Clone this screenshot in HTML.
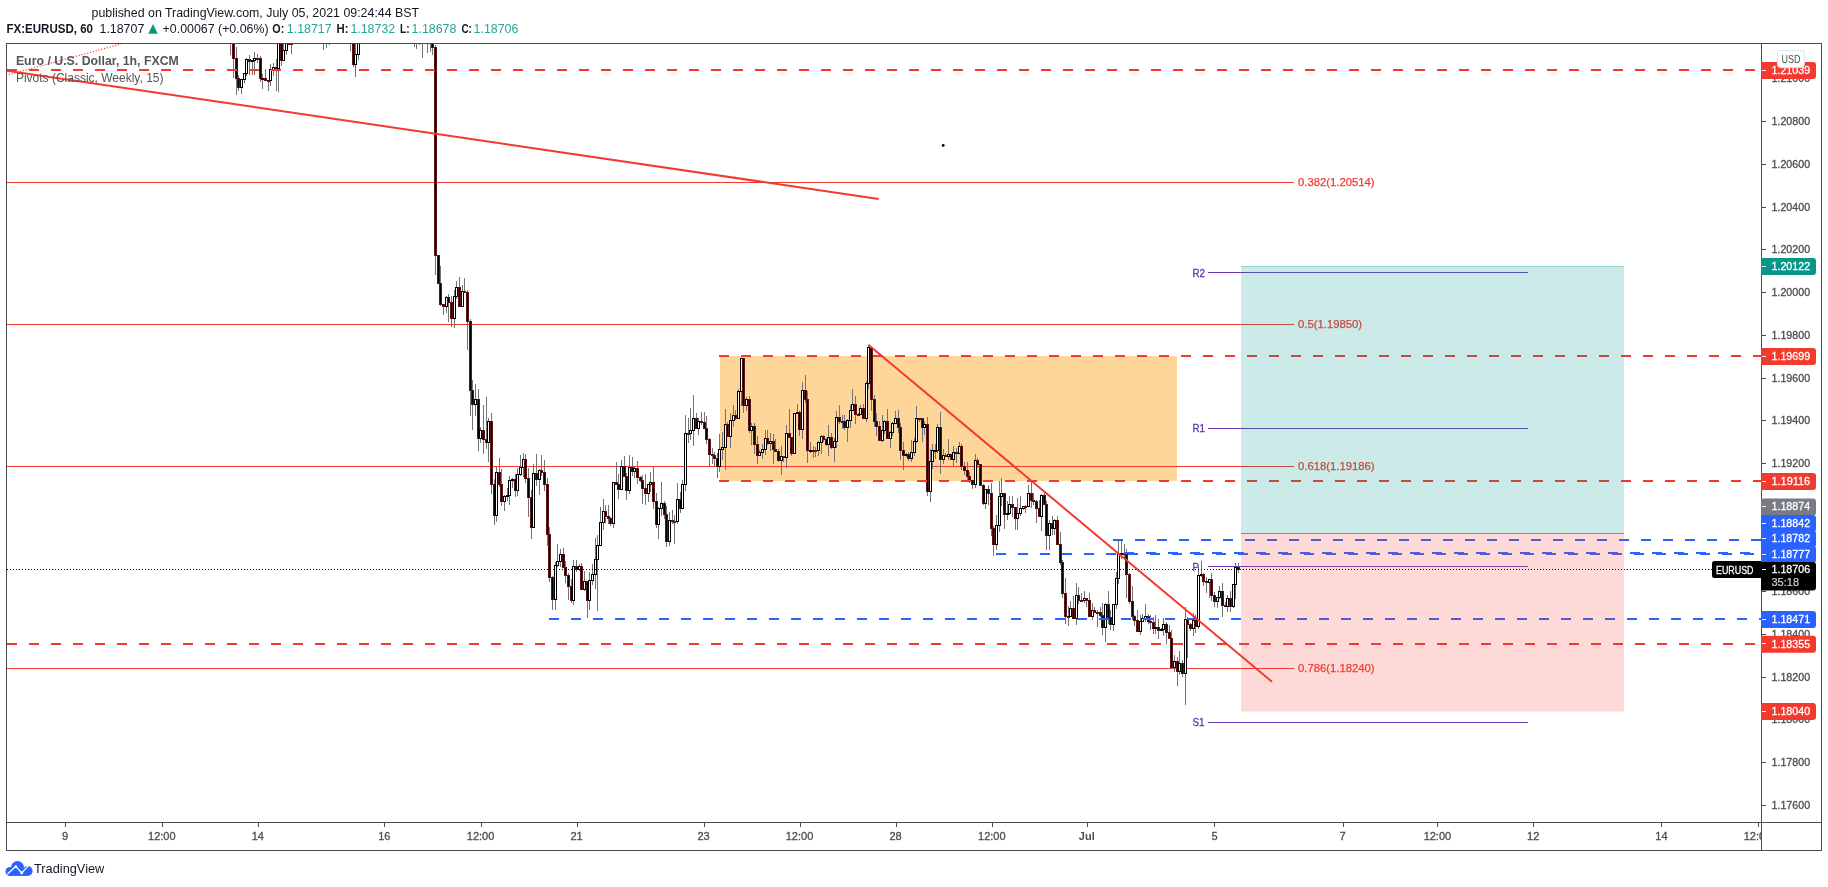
<!DOCTYPE html><html><head><meta charset="utf-8"><style>html,body{margin:0;padding:0;background:#fff;width:1828px;height:887px;overflow:hidden}svg{display:block;will-change:transform}text{font-family:"Liberation Sans", sans-serif}</style></head><body><svg width="1828" height="887" viewBox="0 0 1828 887"><defs><clipPath id="pane"><rect x="7" y="44" width="1754" height="778"/></clipPath><clipPath id="paxis"><rect x="1761" y="44" width="60" height="778"/></clipPath><clipPath id="taxis"><rect x="7" y="823" width="1754" height="27"/></clipPath></defs><rect width="1828" height="887" fill="#fff"/><text x="91.5" y="16.5" font-size="12.4" fill="#131722">published on TradingView.com, July 05, 2021 09:24:44 BST</text><g font-size="12.4"><text x="6.5" y="33.4" font-weight="bold" fill="#131722" textLength="86.5" lengthAdjust="spacingAndGlyphs">FX:EURUSD, 60</text><text x="99.5" y="33.4" fill="#131722">1.18707</text><path d="M148.1,33.8 L153,24.1 L157.8,33.8 Z" fill="#089981"/><text x="162.6" y="33.4" fill="#131722">+0.00067</text><text x="218" y="33.4" fill="#131722">(+0.06%)</text><text x="272.3" y="33.4" font-weight="bold" fill="#131722" textLength="12" lengthAdjust="spacingAndGlyphs">O:</text><text x="286.8" y="33.4" fill="#26a69a">1.18717</text><text x="336.6" y="33.4" font-weight="bold" fill="#131722" textLength="12" lengthAdjust="spacingAndGlyphs">H:</text><text x="350.4" y="33.4" fill="#26a69a">1.18732</text><text x="400" y="33.4" font-weight="bold" fill="#131722" textLength="9.5" lengthAdjust="spacingAndGlyphs">L:</text><text x="411.6" y="33.4" fill="#26a69a">1.18678</text><text x="461.4" y="33.4" font-weight="bold" fill="#131722" textLength="10.5" lengthAdjust="spacingAndGlyphs">C:</text><text x="473.6" y="33.4" fill="#26a69a">1.18706</text></g><g clip-path="url(#pane)"><rect x="720" y="356" width="457" height="125" fill="rgba(255,152,0,0.4)"/><rect x="6" y="182" width="1288" height="1" fill="#f23a2e"/><rect x="6" y="324" width="1288" height="1" fill="#f23a2e"/><rect x="6" y="466" width="1288" height="1" fill="#f23a2e"/><rect x="6" y="668" width="1288" height="1" fill="#f23a2e"/><rect x="1208" y="272" width="320" height="1" fill="#673ab7"/><text x="1192.5" y="276.8" font-size="11" fill="#5b32b4" stroke="#5b32b4" stroke-width="0.3" textLength="12.5" lengthAdjust="spacingAndGlyphs">R2</text><rect x="1208" y="428" width="320" height="1" fill="#673ab7"/><text x="1192.5" y="432" font-size="11" fill="#5b32b4" stroke="#5b32b4" stroke-width="0.3" textLength="12.5" lengthAdjust="spacingAndGlyphs">R1</text><rect x="1208" y="566" width="320" height="1" fill="#673ab7"/><text x="1192.5" y="570.5" font-size="11" fill="#5b32b4" stroke="#5b32b4" stroke-width="0.3" textLength="6.5" lengthAdjust="spacingAndGlyphs">P</text><rect x="1208" y="722" width="320" height="1" fill="#673ab7"/><text x="1192.5" y="726" font-size="11" fill="#5b32b4" stroke="#5b32b4" stroke-width="0.3" textLength="12" lengthAdjust="spacingAndGlyphs">S1</text><g fill="#737375" shape-rendering="crispEdges"><rect x="230" y="30.0" width="1" height="24.5"/><rect x="233" y="30.0" width="1" height="47.5"/><rect x="236" y="46.8" width="1" height="48.0"/><rect x="238" y="75.2" width="1" height="15.5"/><rect x="241" y="78.5" width="1" height="15.9"/><rect x="244" y="73.1" width="1" height="10.2"/><rect x="246" y="58.3" width="1" height="17.5"/><rect x="249" y="55.2" width="1" height="19.3"/><rect x="252" y="60.0" width="1" height="14.8"/><rect x="254" y="52.2" width="1" height="22.6"/><rect x="257" y="54.2" width="1" height="8.4"/><rect x="260" y="56.2" width="1" height="25.4"/><rect x="262" y="74.1" width="1" height="14.6"/><rect x="265" y="69.0" width="1" height="12.2"/><rect x="268" y="80.0" width="1" height="10.7"/><rect x="270" y="63.7" width="1" height="21.9"/><rect x="273" y="63.0" width="1" height="12.5"/><rect x="276" y="59.3" width="1" height="31.4"/><rect x="278" y="30.0" width="1" height="61.7"/><rect x="281" y="30.0" width="1" height="35.7"/><rect x="283" y="30.0" width="1" height="29.6"/><rect x="286" y="30.0" width="1" height="24.5"/><rect x="289" y="30.0" width="1" height="14.5"/><rect x="291" y="30.0" width="1" height="23.5"/><rect x="323" y="30.0" width="1" height="19.6"/><rect x="326" y="30.0" width="1" height="17.5"/><rect x="329" y="30.0" width="1" height="14.6"/><rect x="350" y="30.0" width="1" height="21.4"/><rect x="353" y="30.0" width="1" height="36.7"/><rect x="355" y="30.0" width="1" height="46.6"/><rect x="358" y="30.0" width="1" height="29.6"/><rect x="414" y="30.0" width="1" height="16.8"/><rect x="416" y="30.0" width="1" height="18.5"/><rect x="419" y="30.0" width="1" height="14.6"/><rect x="422" y="30.0" width="1" height="27.8"/><rect x="427" y="30.0" width="1" height="22.8"/><rect x="430" y="30.0" width="1" height="21.7"/><rect x="432" y="30.0" width="1" height="25.0"/><rect x="435" y="45.1" width="1" height="229.4"/><rect x="438" y="255.2" width="1" height="28.4"/><rect x="440" y="266.0" width="1" height="39.5"/><rect x="443" y="304.5" width="1" height="10.0"/><rect x="446" y="296.4" width="1" height="16.1"/><rect x="448" y="294.4" width="1" height="27.3"/><rect x="451" y="296.0" width="1" height="30.8"/><rect x="454" y="290.0" width="1" height="37.7"/><rect x="456" y="281.0" width="1" height="18.3"/><rect x="459" y="277.2" width="1" height="29.3"/><rect x="462" y="284.8" width="1" height="21.7"/><rect x="464" y="278.0" width="1" height="14.3"/><rect x="467" y="290.3" width="1" height="59.3"/><rect x="470" y="319.2" width="1" height="96.3"/><rect x="472" y="380.2" width="1" height="49.5"/><rect x="475" y="384.0" width="1" height="32.4"/><rect x="478" y="388.8" width="1" height="61.8"/><rect x="480" y="426.7" width="1" height="16.7"/><rect x="483" y="404.9" width="1" height="49.5"/><rect x="486" y="397.0" width="1" height="51.5"/><rect x="488" y="418.1" width="1" height="43.6"/><rect x="491" y="413.1" width="1" height="80.7"/><rect x="494" y="478.7" width="1" height="46.1"/><rect x="496" y="467.0" width="1" height="54.6"/><rect x="499" y="458.0" width="1" height="28.7"/><rect x="501" y="468.7" width="1" height="36.8"/><rect x="504" y="494.8" width="1" height="16.6"/><rect x="507" y="487.8" width="1" height="13.0"/><rect x="509" y="475.6" width="1" height="29.2"/><rect x="512" y="477.6" width="1" height="10.0"/><rect x="515" y="473.6" width="1" height="23.3"/><rect x="517" y="467.5" width="1" height="28.8"/><rect x="520" y="454.9" width="1" height="20.6"/><rect x="523" y="453.2" width="1" height="23.7"/><rect x="525" y="454.3" width="1" height="28.3"/><rect x="528" y="467.6" width="1" height="49.4"/><rect x="531" y="489.7" width="1" height="49.1"/><rect x="533" y="464.2" width="1" height="63.4"/><rect x="536" y="454.0" width="1" height="32.4"/><rect x="539" y="469.3" width="1" height="25.4"/><rect x="541" y="455.3" width="1" height="20.5"/><rect x="544" y="459.8" width="1" height="30.7"/><rect x="547" y="477.5" width="1" height="68.3"/><rect x="549" y="526.8" width="1" height="55.6"/><rect x="552" y="576.4" width="1" height="33.6"/><rect x="555" y="562.2" width="1" height="47.8"/><rect x="557" y="543.9" width="1" height="23.3"/><rect x="560" y="548.5" width="1" height="18.1"/><rect x="563" y="547.5" width="1" height="20.7"/><rect x="565" y="561.2" width="1" height="22.1"/><rect x="568" y="573.3" width="1" height="26.7"/><rect x="571" y="578.5" width="1" height="24.7"/><rect x="573" y="559.7" width="1" height="44.8"/><rect x="576" y="559.7" width="1" height="12.5"/><rect x="579" y="563.5" width="1" height="7.7"/><rect x="581" y="562.5" width="1" height="26.9"/><rect x="584" y="570.8" width="1" height="20.6"/><rect x="587" y="580.8" width="1" height="37.2"/><rect x="589" y="571.7" width="1" height="38.0"/><rect x="592" y="563.7" width="1" height="21.0"/><rect x="595" y="538.0" width="1" height="50.7"/><rect x="597" y="535.2" width="1" height="75.5"/><rect x="600" y="506.6" width="1" height="38.6"/><rect x="603" y="499.4" width="1" height="30.2"/><rect x="605" y="505.4" width="1" height="17.1"/><rect x="608" y="504.5" width="1" height="19.0"/><rect x="610" y="516.5" width="1" height="9.1"/><rect x="613" y="481.5" width="1" height="46.5"/><rect x="616" y="462.0" width="1" height="22.0"/><rect x="618" y="474.0" width="1" height="24.7"/><rect x="621" y="460.0" width="1" height="29.6"/><rect x="624" y="455.7" width="1" height="20.7"/><rect x="626" y="473.4" width="1" height="26.2"/><rect x="629" y="454.8" width="1" height="38.8"/><rect x="632" y="456.8" width="1" height="19.4"/><rect x="634" y="466.7" width="1" height="11.5"/><rect x="637" y="460.7" width="1" height="23.6"/><rect x="640" y="476.3" width="1" height="6.1"/><rect x="642" y="475.4" width="1" height="28.1"/><rect x="645" y="473.5" width="1" height="31.2"/><rect x="648" y="484.0" width="1" height="17.7"/><rect x="650" y="471.6" width="1" height="20.4"/><rect x="653" y="466.9" width="1" height="41.8"/><rect x="656" y="492.7" width="1" height="34.8"/><rect x="658" y="507.3" width="1" height="31.2"/><rect x="661" y="482.4" width="1" height="33.9"/><rect x="664" y="500.6" width="1" height="18.7"/><rect x="666" y="506.3" width="1" height="41.0"/><rect x="669" y="512.4" width="1" height="33.8"/><rect x="672" y="510.4" width="1" height="13.6"/><rect x="674" y="515.0" width="1" height="29.0"/><rect x="677" y="483.4" width="1" height="41.0"/><rect x="680" y="491.6" width="1" height="21.6"/><rect x="682" y="480.3" width="1" height="27.9"/><rect x="685" y="414.8" width="1" height="76.6"/><rect x="688" y="417.6" width="1" height="25.5"/><rect x="690" y="408.0" width="1" height="32.1"/><rect x="693" y="395.0" width="1" height="50.5"/><rect x="696" y="413.4" width="1" height="15.1"/><rect x="698" y="418.4" width="1" height="16.1"/><rect x="701" y="412.3" width="1" height="12.6"/><rect x="704" y="411.9" width="1" height="16.1"/><rect x="706" y="416.0" width="1" height="27.7"/><rect x="709" y="437.7" width="1" height="28.7"/><rect x="712" y="448.4" width="1" height="15.1"/><rect x="714" y="451.9" width="1" height="13.6"/><rect x="717" y="452.5" width="1" height="25.1"/><rect x="719" y="434.3" width="1" height="37.3"/><rect x="722" y="432.3" width="1" height="27.2"/><rect x="725" y="409.3" width="1" height="60.7"/><rect x="727" y="422.3" width="1" height="13.5"/><rect x="730" y="412.6" width="1" height="35.2"/><rect x="733" y="404.9" width="1" height="21.7"/><rect x="735" y="409.9" width="1" height="10.3"/><rect x="738" y="389.2" width="1" height="29.0"/><rect x="741" y="357.5" width="1" height="48.7"/><rect x="743" y="357.8" width="1" height="54.9"/><rect x="746" y="397.3" width="1" height="13.4"/><rect x="749" y="396.3" width="1" height="37.1"/><rect x="751" y="423.4" width="1" height="21.9"/><rect x="754" y="423.4" width="1" height="30.1"/><rect x="757" y="435.5" width="1" height="28.8"/><rect x="759" y="450.1" width="1" height="5.0"/><rect x="762" y="444.0" width="1" height="15.1"/><rect x="765" y="430.4" width="1" height="24.6"/><rect x="767" y="430.4" width="1" height="14.6"/><rect x="770" y="432.9" width="1" height="18.1"/><rect x="773" y="433.9" width="1" height="30.4"/><rect x="775" y="439.0" width="1" height="12.1"/><rect x="778" y="449.1" width="1" height="13.1"/><rect x="781" y="445.6" width="1" height="29.6"/><rect x="783" y="455.6" width="1" height="6.6"/><rect x="786" y="425.4" width="1" height="42.9"/><rect x="789" y="409.0" width="1" height="29.4"/><rect x="791" y="437.4" width="1" height="18.3"/><rect x="794" y="413.1" width="1" height="40.6"/><rect x="797" y="403.5" width="1" height="9.6"/><rect x="799" y="410.5" width="1" height="25.8"/><rect x="802" y="382.2" width="1" height="57.1"/><rect x="805" y="375.2" width="1" height="28.2"/><rect x="807" y="391.4" width="1" height="71.9"/><rect x="810" y="441.6" width="1" height="11.5"/><rect x="813" y="445.6" width="1" height="12.0"/><rect x="815" y="446.6" width="1" height="10.0"/><rect x="818" y="440.5" width="1" height="15.1"/><rect x="821" y="435.4" width="1" height="18.1"/><rect x="823" y="435.4" width="1" height="6.6"/><rect x="826" y="438.0" width="1" height="7.5"/><rect x="828" y="425.4" width="1" height="30.1"/><rect x="831" y="433.4" width="1" height="15.2"/><rect x="834" y="438.0" width="1" height="23.6"/><rect x="836" y="410.6" width="1" height="37.4"/><rect x="839" y="404.6" width="1" height="19.6"/><rect x="842" y="415.2" width="1" height="14.0"/><rect x="844" y="415.2" width="1" height="15.1"/><rect x="847" y="418.7" width="1" height="23.6"/><rect x="850" y="404.5" width="1" height="23.2"/><rect x="852" y="388.9" width="1" height="20.6"/><rect x="855" y="395.9" width="1" height="28.2"/><rect x="858" y="413.1" width="1" height="2.2"/><rect x="860" y="405.1" width="1" height="10.2"/><rect x="863" y="404.1" width="1" height="13.9"/><rect x="866" y="380.7" width="1" height="41.3"/><rect x="868" y="345.5" width="1" height="43.2"/><rect x="871" y="347.0" width="1" height="64.4"/><rect x="874" y="395.4" width="1" height="31.7"/><rect x="876" y="413.1" width="1" height="23.0"/><rect x="879" y="421.1" width="1" height="19.6"/><rect x="882" y="415.0" width="1" height="26.7"/><rect x="884" y="420.1" width="1" height="13.9"/><rect x="887" y="409.1" width="1" height="29.5"/><rect x="890" y="430.5" width="1" height="17.1"/><rect x="892" y="422.4" width="1" height="13.1"/><rect x="895" y="410.8" width="1" height="12.6"/><rect x="898" y="409.8" width="1" height="23.1"/><rect x="900" y="422.9" width="1" height="37.4"/><rect x="903" y="442.3" width="1" height="28.0"/><rect x="906" y="453.3" width="1" height="4.0"/><rect x="908" y="452.3" width="1" height="9.1"/><rect x="911" y="439.8" width="1" height="22.6"/><rect x="914" y="437.6" width="1" height="18.2"/><rect x="916" y="405.8" width="1" height="36.8"/><rect x="919" y="417.8" width="1" height="4.5"/><rect x="922" y="418.3" width="1" height="24.1"/><rect x="924" y="420.9" width="1" height="14.5"/><rect x="927" y="416.9" width="1" height="78.8"/><rect x="930" y="448.7" width="1" height="53.1"/><rect x="932" y="443.5" width="1" height="25.2"/><rect x="935" y="444.0" width="1" height="14.5"/><rect x="937" y="424.2" width="1" height="28.8"/><rect x="940" y="412.2" width="1" height="61.5"/><rect x="943" y="448.6" width="1" height="15.1"/><rect x="945" y="452.6" width="1" height="3.5"/><rect x="948" y="438.6" width="1" height="21.5"/><rect x="951" y="453.6" width="1" height="6.6"/><rect x="953" y="445.5" width="1" height="21.7"/><rect x="956" y="447.5" width="1" height="15.6"/><rect x="959" y="441.5" width="1" height="11.6"/><rect x="961" y="443.5" width="1" height="26.0"/><rect x="964" y="461.5" width="1" height="13.6"/><rect x="967" y="462.1" width="1" height="19.1"/><rect x="969" y="472.2" width="1" height="11.1"/><rect x="972" y="480.3" width="1" height="9.0"/><rect x="975" y="453.5" width="1" height="34.8"/><rect x="977" y="457.5" width="1" height="10.0"/><rect x="980" y="464.5" width="1" height="21.8"/><rect x="983" y="484.3" width="1" height="20.8"/><rect x="985" y="488.9" width="1" height="20.2"/><rect x="988" y="484.9" width="1" height="20.0"/><rect x="991" y="482.9" width="1" height="52.9"/><rect x="993" y="525.8" width="1" height="29.7"/><rect x="996" y="515.3" width="1" height="34.2"/><rect x="999" y="481.3" width="1" height="51.0"/><rect x="1001" y="478.3" width="1" height="28.0"/><rect x="1004" y="493.3" width="1" height="35.8"/><rect x="1007" y="501.0" width="1" height="19.1"/><rect x="1009" y="496.4" width="1" height="18.6"/><rect x="1012" y="496.4" width="1" height="20.6"/><rect x="1015" y="507.0" width="1" height="22.6"/><rect x="1017" y="497.6" width="1" height="32.0"/><rect x="1020" y="495.5" width="1" height="20.1"/><rect x="1023" y="506.0" width="1" height="3.5"/><rect x="1025" y="505.0" width="1" height="7.5"/><rect x="1028" y="485.3" width="1" height="21.2"/><rect x="1031" y="481.3" width="1" height="27.1"/><rect x="1033" y="493.4" width="1" height="12.0"/><rect x="1036" y="500.4" width="1" height="22.1"/><rect x="1039" y="499.5" width="1" height="17.1"/><rect x="1041" y="494.3" width="1" height="36.3"/><rect x="1044" y="491.3" width="1" height="14.1"/><rect x="1046" y="501.4" width="1" height="49.0"/><rect x="1049" y="519.7" width="1" height="30.7"/><rect x="1052" y="515.7" width="1" height="19.6"/><rect x="1054" y="519.2" width="1" height="16.1"/><rect x="1057" y="516.2" width="1" height="27.9"/><rect x="1060" y="532.1" width="1" height="33.3"/><rect x="1062" y="560.4" width="1" height="38.0"/><rect x="1065" y="578.4" width="1" height="45.6"/><rect x="1068" y="606.2" width="1" height="20.0"/><rect x="1070" y="600.6" width="1" height="15.6"/><rect x="1073" y="595.6" width="1" height="23.6"/><rect x="1076" y="582.9" width="1" height="42.3"/><rect x="1078" y="586.9" width="1" height="17.1"/><rect x="1081" y="593.0" width="1" height="8.0"/><rect x="1084" y="590.5" width="1" height="12.5"/><rect x="1086" y="597.5" width="1" height="9.5"/><rect x="1089" y="593.0" width="1" height="24.2"/><rect x="1092" y="602.6" width="1" height="17.6"/><rect x="1094" y="606.6" width="1" height="6.5"/><rect x="1097" y="610.1" width="1" height="17.0"/><rect x="1100" y="607.1" width="1" height="10.0"/><rect x="1102" y="603.1" width="1" height="32.2"/><rect x="1105" y="602.5" width="1" height="39.8"/><rect x="1108" y="591.3" width="1" height="32.9"/><rect x="1110" y="610.2" width="1" height="20.1"/><rect x="1113" y="604.5" width="1" height="26.8"/><rect x="1116" y="571.6" width="1" height="36.9"/><rect x="1118" y="541.0" width="1" height="42.6"/><rect x="1121" y="541.0" width="1" height="17.7"/><rect x="1124" y="544.0" width="1" height="14.7"/><rect x="1126" y="548.7" width="1" height="49.0"/><rect x="1129" y="573.4" width="1" height="30.9"/><rect x="1132" y="586.3" width="1" height="33.2"/><rect x="1134" y="614.5" width="1" height="11.0"/><rect x="1137" y="609.5" width="1" height="22.7"/><rect x="1140" y="614.6" width="1" height="20.6"/><rect x="1142" y="613.5" width="1" height="8.1"/><rect x="1145" y="604.0" width="1" height="17.5"/><rect x="1148" y="614.0" width="1" height="10.1"/><rect x="1150" y="615.1" width="1" height="15.0"/><rect x="1153" y="617.1" width="1" height="17.1"/><rect x="1155" y="614.6" width="1" height="19.6"/><rect x="1158" y="618.6" width="1" height="19.9"/><rect x="1161" y="628.4" width="1" height="2.1"/><rect x="1163" y="618.4" width="1" height="18.0"/><rect x="1166" y="622.4" width="1" height="21.1"/><rect x="1169" y="624.5" width="1" height="13.1"/><rect x="1171" y="629.6" width="1" height="39.4"/><rect x="1174" y="654.9" width="1" height="17.1"/><rect x="1177" y="656.9" width="1" height="29.2"/><rect x="1179" y="651.0" width="1" height="24.1"/><rect x="1182" y="660.0" width="1" height="17.1"/><rect x="1185" y="606.8" width="1" height="97.8"/><rect x="1187" y="616.8" width="1" height="41.1"/><rect x="1190" y="622.9" width="1" height="8.5"/><rect x="1193" y="612.9" width="1" height="23.5"/><rect x="1195" y="614.9" width="1" height="18.3"/><rect x="1198" y="567.3" width="1" height="61.9"/><rect x="1201" y="560.9" width="1" height="16.4"/><rect x="1203" y="573.4" width="1" height="12.7"/><rect x="1206" y="577.1" width="1" height="15.4"/><rect x="1209" y="578.9" width="1" height="18.6"/><rect x="1211" y="572.9" width="1" height="28.2"/><rect x="1214" y="592.1" width="1" height="14.9"/><rect x="1217" y="597.3" width="1" height="10.7"/><rect x="1219" y="586.0" width="1" height="13.3"/><rect x="1222" y="583.0" width="1" height="34.0"/><rect x="1225" y="602.0" width="1" height="5.4"/><rect x="1227" y="595.2" width="1" height="17.2"/><rect x="1230" y="591.2" width="1" height="21.2"/><rect x="1233" y="584.3" width="1" height="24.1"/><rect x="1235" y="563.0" width="1" height="36.3"/><rect x="1238" y="563.0" width="1" height="10.0"/></g><g shape-rendering="crispEdges"><rect x="229" y="30" width="3" height="2" fill="#5a1616"/><rect x="232" y="30" width="3" height="29" fill="#5a1616"/><rect x="233" y="31" width="1" height="27" fill="#000"/><rect x="235" y="58" width="3" height="21" fill="#5a1616"/><rect x="236" y="59" width="1" height="19" fill="#000"/><rect x="237" y="78" width="3" height="10" fill="#5a1616"/><rect x="238" y="79" width="1" height="8" fill="#000"/><rect x="240" y="79" width="3" height="9" fill="#000"/><rect x="241" y="80" width="1" height="7" fill="#fff"/><rect x="243" y="73" width="3" height="7" fill="#000"/><rect x="244" y="74" width="1" height="5" fill="#fff"/><rect x="245" y="59" width="3" height="15" fill="#000"/><rect x="246" y="60" width="1" height="13" fill="#fff"/><rect x="248" y="59" width="3" height="3" fill="#5a1616"/><rect x="249" y="60" width="1" height="1" fill="#000"/><rect x="251" y="60" width="3" height="2" fill="#000"/><rect x="253" y="58" width="3" height="3" fill="#000"/><rect x="254" y="59" width="1" height="1" fill="#fff"/><rect x="256" y="58" width="3" height="2" fill="#5a1616"/><rect x="259" y="58" width="3" height="21" fill="#5a1616"/><rect x="260" y="59" width="1" height="19" fill="#000"/><rect x="261" y="78" width="3" height="2" fill="#000"/><rect x="264" y="78" width="3" height="3" fill="#5a1616"/><rect x="265" y="79" width="1" height="1" fill="#000"/><rect x="267" y="80" width="3" height="2" fill="#5a1616"/><rect x="269" y="69" width="3" height="12" fill="#000"/><rect x="270" y="70" width="1" height="10" fill="#fff"/><rect x="272" y="67" width="3" height="3" fill="#000"/><rect x="273" y="68" width="1" height="1" fill="#fff"/><rect x="275" y="67" width="3" height="2" fill="#5a1616"/><rect x="277" y="30" width="3" height="39" fill="#000"/><rect x="278" y="31" width="1" height="37" fill="#fff"/><rect x="280" y="30" width="3" height="31" fill="#5a1616"/><rect x="281" y="31" width="1" height="29" fill="#000"/><rect x="282" y="50" width="3" height="11" fill="#000"/><rect x="283" y="51" width="1" height="9" fill="#fff"/><rect x="285" y="30" width="3" height="21" fill="#000"/><rect x="286" y="31" width="1" height="19" fill="#fff"/><rect x="288" y="30" width="3" height="15" fill="#5a1616"/><rect x="289" y="31" width="1" height="13" fill="#000"/><rect x="290" y="30" width="3" height="15" fill="#5a1616"/><rect x="291" y="31" width="1" height="13" fill="#000"/><rect x="322" y="30" width="3" height="2" fill="#5a1616"/><rect x="325" y="30" width="3" height="2" fill="#5a1616"/><rect x="328" y="30" width="3" height="2" fill="#5a1616"/><rect x="349" y="30" width="3" height="2" fill="#5a1616"/><rect x="352" y="30" width="3" height="35" fill="#5a1616"/><rect x="353" y="31" width="1" height="33" fill="#000"/><rect x="354" y="54" width="3" height="11" fill="#000"/><rect x="355" y="55" width="1" height="9" fill="#fff"/><rect x="357" y="30" width="3" height="25" fill="#000"/><rect x="358" y="31" width="1" height="23" fill="#fff"/><rect x="413" y="30" width="3" height="2" fill="#5a1616"/><rect x="415" y="30" width="3" height="2" fill="#5a1616"/><rect x="418" y="30" width="3" height="2" fill="#5a1616"/><rect x="421" y="30" width="3" height="2" fill="#5a1616"/><rect x="426" y="30" width="3" height="2" fill="#5a1616"/><rect x="429" y="30" width="3" height="2" fill="#5a1616"/><rect x="431" y="30" width="3" height="18" fill="#5a1616"/><rect x="432" y="31" width="1" height="16" fill="#000"/><rect x="434" y="47" width="3" height="209" fill="#5a1616"/><rect x="435" y="48" width="1" height="207" fill="#000"/><rect x="437" y="255" width="3" height="29" fill="#5a1616"/><rect x="438" y="256" width="1" height="27" fill="#000"/><rect x="439" y="283" width="3" height="22" fill="#5a1616"/><rect x="440" y="284" width="1" height="20" fill="#000"/><rect x="442" y="304" width="3" height="3" fill="#5a1616"/><rect x="443" y="305" width="1" height="1" fill="#000"/><rect x="445" y="297" width="3" height="10" fill="#000"/><rect x="446" y="298" width="1" height="8" fill="#fff"/><rect x="447" y="297" width="3" height="6" fill="#5a1616"/><rect x="448" y="298" width="1" height="4" fill="#000"/><rect x="450" y="302" width="3" height="17" fill="#5a1616"/><rect x="451" y="303" width="1" height="15" fill="#000"/><rect x="453" y="296" width="3" height="23" fill="#000"/><rect x="454" y="297" width="1" height="21" fill="#fff"/><rect x="455" y="287" width="3" height="10" fill="#000"/><rect x="456" y="288" width="1" height="8" fill="#fff"/><rect x="458" y="287" width="3" height="20" fill="#5a1616"/><rect x="459" y="288" width="1" height="18" fill="#000"/><rect x="461" y="291" width="3" height="16" fill="#000"/><rect x="462" y="292" width="1" height="14" fill="#fff"/><rect x="463" y="291" width="3" height="2" fill="#5a1616"/><rect x="466" y="292" width="3" height="30" fill="#5a1616"/><rect x="467" y="293" width="1" height="28" fill="#000"/><rect x="469" y="321" width="3" height="70" fill="#5a1616"/><rect x="470" y="322" width="1" height="68" fill="#000"/><rect x="471" y="390" width="3" height="15" fill="#5a1616"/><rect x="472" y="391" width="1" height="13" fill="#000"/><rect x="474" y="399" width="3" height="6" fill="#000"/><rect x="475" y="400" width="1" height="4" fill="#fff"/><rect x="477" y="399" width="3" height="40" fill="#5a1616"/><rect x="478" y="400" width="1" height="38" fill="#000"/><rect x="479" y="430" width="3" height="9" fill="#000"/><rect x="480" y="431" width="1" height="7" fill="#fff"/><rect x="482" y="430" width="3" height="10" fill="#5a1616"/><rect x="483" y="431" width="1" height="8" fill="#000"/><rect x="485" y="439" width="3" height="4" fill="#5a1616"/><rect x="486" y="440" width="1" height="2" fill="#000"/><rect x="487" y="421" width="3" height="22" fill="#000"/><rect x="488" y="422" width="1" height="20" fill="#fff"/><rect x="490" y="421" width="3" height="64" fill="#5a1616"/><rect x="491" y="422" width="1" height="62" fill="#000"/><rect x="493" y="484" width="3" height="32" fill="#5a1616"/><rect x="494" y="485" width="1" height="30" fill="#000"/><rect x="495" y="472" width="3" height="44" fill="#000"/><rect x="496" y="473" width="1" height="42" fill="#fff"/><rect x="498" y="472" width="3" height="13" fill="#5a1616"/><rect x="499" y="473" width="1" height="11" fill="#000"/><rect x="500" y="484" width="3" height="18" fill="#5a1616"/><rect x="501" y="485" width="1" height="16" fill="#000"/><rect x="503" y="496" width="3" height="6" fill="#000"/><rect x="504" y="497" width="1" height="4" fill="#fff"/><rect x="506" y="495" width="3" height="2" fill="#000"/><rect x="508" y="480" width="3" height="16" fill="#000"/><rect x="509" y="481" width="1" height="14" fill="#fff"/><rect x="511" y="479" width="3" height="2" fill="#000"/><rect x="514" y="479" width="3" height="12" fill="#5a1616"/><rect x="515" y="480" width="1" height="10" fill="#000"/><rect x="516" y="474" width="3" height="17" fill="#000"/><rect x="517" y="475" width="1" height="15" fill="#fff"/><rect x="519" y="467" width="3" height="8" fill="#000"/><rect x="520" y="468" width="1" height="6" fill="#fff"/><rect x="522" y="459" width="3" height="9" fill="#000"/><rect x="523" y="460" width="1" height="7" fill="#fff"/><rect x="524" y="459" width="3" height="20" fill="#5a1616"/><rect x="525" y="460" width="1" height="18" fill="#000"/><rect x="527" y="478" width="3" height="20" fill="#5a1616"/><rect x="528" y="479" width="1" height="18" fill="#000"/><rect x="530" y="497" width="3" height="31" fill="#5a1616"/><rect x="531" y="498" width="1" height="29" fill="#000"/><rect x="532" y="473" width="3" height="55" fill="#000"/><rect x="533" y="474" width="1" height="53" fill="#fff"/><rect x="535" y="473" width="3" height="7" fill="#5a1616"/><rect x="536" y="474" width="1" height="5" fill="#000"/><rect x="538" y="470" width="3" height="10" fill="#000"/><rect x="539" y="471" width="1" height="8" fill="#fff"/><rect x="540" y="470" width="3" height="3" fill="#5a1616"/><rect x="541" y="471" width="1" height="1" fill="#000"/><rect x="543" y="472" width="3" height="13" fill="#5a1616"/><rect x="544" y="473" width="1" height="11" fill="#000"/><rect x="546" y="484" width="3" height="51" fill="#5a1616"/><rect x="547" y="485" width="1" height="49" fill="#000"/><rect x="548" y="534" width="3" height="44" fill="#5a1616"/><rect x="549" y="535" width="1" height="42" fill="#000"/><rect x="551" y="577" width="3" height="23" fill="#5a1616"/><rect x="552" y="578" width="1" height="21" fill="#000"/><rect x="554" y="565" width="3" height="35" fill="#000"/><rect x="555" y="566" width="1" height="33" fill="#fff"/><rect x="556" y="561" width="3" height="5" fill="#000"/><rect x="557" y="562" width="1" height="3" fill="#fff"/><rect x="559" y="554" width="3" height="8" fill="#000"/><rect x="560" y="555" width="1" height="6" fill="#fff"/><rect x="562" y="554" width="3" height="14" fill="#5a1616"/><rect x="563" y="555" width="1" height="12" fill="#000"/><rect x="564" y="567" width="3" height="9" fill="#5a1616"/><rect x="565" y="568" width="1" height="7" fill="#000"/><rect x="567" y="575" width="3" height="12" fill="#5a1616"/><rect x="568" y="576" width="1" height="10" fill="#000"/><rect x="570" y="586" width="3" height="15" fill="#5a1616"/><rect x="571" y="587" width="1" height="13" fill="#000"/><rect x="572" y="566" width="3" height="35" fill="#000"/><rect x="573" y="567" width="1" height="33" fill="#fff"/><rect x="575" y="566" width="3" height="4" fill="#5a1616"/><rect x="576" y="567" width="1" height="2" fill="#000"/><rect x="578" y="566" width="3" height="4" fill="#000"/><rect x="579" y="567" width="1" height="2" fill="#fff"/><rect x="580" y="566" width="3" height="24" fill="#5a1616"/><rect x="581" y="567" width="1" height="22" fill="#000"/><rect x="583" y="581" width="3" height="9" fill="#000"/><rect x="584" y="582" width="1" height="7" fill="#fff"/><rect x="586" y="581" width="3" height="20" fill="#5a1616"/><rect x="587" y="582" width="1" height="18" fill="#000"/><rect x="588" y="580" width="3" height="21" fill="#000"/><rect x="589" y="581" width="1" height="19" fill="#fff"/><rect x="591" y="574" width="3" height="7" fill="#000"/><rect x="592" y="575" width="1" height="5" fill="#fff"/><rect x="594" y="559" width="3" height="16" fill="#000"/><rect x="595" y="560" width="1" height="14" fill="#fff"/><rect x="596" y="545" width="3" height="15" fill="#000"/><rect x="597" y="546" width="1" height="13" fill="#fff"/><rect x="599" y="522" width="3" height="24" fill="#000"/><rect x="600" y="523" width="1" height="22" fill="#fff"/><rect x="602" y="511" width="3" height="12" fill="#000"/><rect x="603" y="512" width="1" height="10" fill="#fff"/><rect x="604" y="511" width="3" height="6" fill="#5a1616"/><rect x="605" y="512" width="1" height="4" fill="#000"/><rect x="607" y="516" width="3" height="3" fill="#5a1616"/><rect x="608" y="517" width="1" height="1" fill="#000"/><rect x="609" y="518" width="3" height="6" fill="#5a1616"/><rect x="610" y="519" width="1" height="4" fill="#000"/><rect x="612" y="482" width="3" height="42" fill="#000"/><rect x="613" y="483" width="1" height="40" fill="#fff"/><rect x="615" y="482" width="3" height="3" fill="#5a1616"/><rect x="616" y="483" width="1" height="1" fill="#000"/><rect x="617" y="484" width="3" height="6" fill="#5a1616"/><rect x="618" y="485" width="1" height="4" fill="#000"/><rect x="620" y="466" width="3" height="24" fill="#000"/><rect x="621" y="467" width="1" height="22" fill="#fff"/><rect x="623" y="466" width="3" height="11" fill="#5a1616"/><rect x="624" y="467" width="1" height="9" fill="#000"/><rect x="625" y="476" width="3" height="15" fill="#5a1616"/><rect x="626" y="477" width="1" height="13" fill="#000"/><rect x="628" y="467" width="3" height="24" fill="#000"/><rect x="629" y="468" width="1" height="22" fill="#fff"/><rect x="631" y="467" width="3" height="5" fill="#5a1616"/><rect x="632" y="468" width="1" height="3" fill="#000"/><rect x="633" y="468" width="3" height="4" fill="#000"/><rect x="634" y="469" width="1" height="2" fill="#fff"/><rect x="636" y="468" width="3" height="10" fill="#5a1616"/><rect x="637" y="469" width="1" height="8" fill="#000"/><rect x="639" y="477" width="3" height="4" fill="#5a1616"/><rect x="640" y="478" width="1" height="2" fill="#000"/><rect x="641" y="480" width="3" height="9" fill="#5a1616"/><rect x="642" y="481" width="1" height="7" fill="#000"/><rect x="644" y="488" width="3" height="6" fill="#5a1616"/><rect x="645" y="489" width="1" height="4" fill="#000"/><rect x="647" y="484" width="3" height="10" fill="#000"/><rect x="648" y="485" width="1" height="8" fill="#fff"/><rect x="649" y="482" width="3" height="3" fill="#000"/><rect x="650" y="483" width="1" height="1" fill="#fff"/><rect x="652" y="482" width="3" height="20" fill="#5a1616"/><rect x="653" y="483" width="1" height="18" fill="#000"/><rect x="655" y="501" width="3" height="24" fill="#5a1616"/><rect x="656" y="502" width="1" height="22" fill="#000"/><rect x="657" y="508" width="3" height="17" fill="#000"/><rect x="658" y="509" width="1" height="15" fill="#fff"/><rect x="660" y="503" width="3" height="6" fill="#000"/><rect x="661" y="504" width="1" height="4" fill="#fff"/><rect x="663" y="503" width="3" height="12" fill="#5a1616"/><rect x="664" y="504" width="1" height="10" fill="#000"/><rect x="665" y="514" width="3" height="28" fill="#5a1616"/><rect x="666" y="515" width="1" height="26" fill="#000"/><rect x="668" y="520" width="3" height="22" fill="#000"/><rect x="669" y="521" width="1" height="20" fill="#fff"/><rect x="671" y="520" width="3" height="2" fill="#5a1616"/><rect x="673" y="521" width="3" height="2" fill="#5a1616"/><rect x="676" y="499" width="3" height="23" fill="#000"/><rect x="677" y="500" width="1" height="21" fill="#fff"/><rect x="679" y="499" width="3" height="10" fill="#5a1616"/><rect x="680" y="500" width="1" height="8" fill="#000"/><rect x="681" y="484" width="3" height="25" fill="#000"/><rect x="682" y="485" width="1" height="23" fill="#fff"/><rect x="684" y="433" width="3" height="52" fill="#000"/><rect x="685" y="434" width="1" height="50" fill="#fff"/><rect x="687" y="433" width="3" height="2" fill="#5a1616"/><rect x="689" y="430" width="3" height="4" fill="#000"/><rect x="690" y="431" width="1" height="2" fill="#fff"/><rect x="692" y="418" width="3" height="13" fill="#000"/><rect x="693" y="419" width="1" height="11" fill="#fff"/><rect x="695" y="418" width="3" height="11" fill="#5a1616"/><rect x="696" y="419" width="1" height="9" fill="#000"/><rect x="697" y="421" width="3" height="8" fill="#000"/><rect x="698" y="422" width="1" height="6" fill="#fff"/><rect x="700" y="421" width="3" height="2" fill="#5a1616"/><rect x="703" y="422" width="3" height="7" fill="#5a1616"/><rect x="704" y="423" width="1" height="5" fill="#000"/><rect x="705" y="428" width="3" height="12" fill="#5a1616"/><rect x="706" y="429" width="1" height="10" fill="#000"/><rect x="708" y="439" width="3" height="16" fill="#5a1616"/><rect x="709" y="440" width="1" height="14" fill="#000"/><rect x="711" y="454" width="3" height="2" fill="#5a1616"/><rect x="713" y="455" width="3" height="4" fill="#5a1616"/><rect x="714" y="456" width="1" height="2" fill="#000"/><rect x="716" y="458" width="3" height="9" fill="#5a1616"/><rect x="717" y="459" width="1" height="7" fill="#000"/><rect x="718" y="449" width="3" height="18" fill="#000"/><rect x="719" y="450" width="1" height="16" fill="#fff"/><rect x="721" y="447" width="3" height="3" fill="#000"/><rect x="722" y="448" width="1" height="1" fill="#fff"/><rect x="724" y="424" width="3" height="24" fill="#000"/><rect x="725" y="425" width="1" height="22" fill="#fff"/><rect x="726" y="424" width="3" height="13" fill="#5a1616"/><rect x="727" y="425" width="1" height="11" fill="#000"/><rect x="729" y="420" width="3" height="17" fill="#000"/><rect x="730" y="421" width="1" height="15" fill="#fff"/><rect x="732" y="415" width="3" height="6" fill="#000"/><rect x="733" y="416" width="1" height="4" fill="#fff"/><rect x="734" y="415" width="3" height="4" fill="#5a1616"/><rect x="735" y="416" width="1" height="2" fill="#000"/><rect x="737" y="391" width="3" height="28" fill="#000"/><rect x="738" y="392" width="1" height="26" fill="#fff"/><rect x="740" y="358" width="3" height="34" fill="#000"/><rect x="741" y="359" width="1" height="32" fill="#fff"/><rect x="742" y="358" width="3" height="48" fill="#5a1616"/><rect x="743" y="359" width="1" height="46" fill="#000"/><rect x="745" y="399" width="3" height="7" fill="#000"/><rect x="746" y="400" width="1" height="5" fill="#fff"/><rect x="748" y="399" width="3" height="32" fill="#5a1616"/><rect x="749" y="400" width="1" height="30" fill="#000"/><rect x="750" y="426" width="3" height="5" fill="#000"/><rect x="751" y="427" width="1" height="3" fill="#fff"/><rect x="753" y="426" width="3" height="19" fill="#5a1616"/><rect x="754" y="427" width="1" height="17" fill="#000"/><rect x="756" y="444" width="3" height="12" fill="#5a1616"/><rect x="757" y="445" width="1" height="10" fill="#000"/><rect x="758" y="452" width="3" height="4" fill="#000"/><rect x="759" y="453" width="1" height="2" fill="#fff"/><rect x="761" y="449" width="3" height="4" fill="#000"/><rect x="762" y="450" width="1" height="2" fill="#fff"/><rect x="764" y="438" width="3" height="12" fill="#000"/><rect x="765" y="439" width="1" height="10" fill="#fff"/><rect x="766" y="438" width="3" height="6" fill="#5a1616"/><rect x="767" y="439" width="1" height="4" fill="#000"/><rect x="769" y="441" width="3" height="3" fill="#000"/><rect x="770" y="442" width="1" height="1" fill="#fff"/><rect x="772" y="441" width="3" height="9" fill="#5a1616"/><rect x="773" y="442" width="1" height="7" fill="#000"/><rect x="774" y="449" width="3" height="3" fill="#5a1616"/><rect x="775" y="450" width="1" height="1" fill="#000"/><rect x="777" y="451" width="3" height="10" fill="#5a1616"/><rect x="778" y="452" width="1" height="8" fill="#000"/><rect x="780" y="456" width="3" height="5" fill="#000"/><rect x="781" y="457" width="1" height="3" fill="#fff"/><rect x="782" y="456" width="3" height="2" fill="#5a1616"/><rect x="785" y="433" width="3" height="25" fill="#000"/><rect x="786" y="434" width="1" height="23" fill="#fff"/><rect x="788" y="433" width="3" height="5" fill="#5a1616"/><rect x="789" y="434" width="1" height="3" fill="#000"/><rect x="790" y="437" width="3" height="17" fill="#5a1616"/><rect x="791" y="438" width="1" height="15" fill="#000"/><rect x="793" y="413" width="3" height="41" fill="#000"/><rect x="794" y="414" width="1" height="39" fill="#fff"/><rect x="796" y="412" width="3" height="2" fill="#000"/><rect x="798" y="412" width="3" height="18" fill="#5a1616"/><rect x="799" y="413" width="1" height="16" fill="#000"/><rect x="801" y="390" width="3" height="40" fill="#000"/><rect x="802" y="391" width="1" height="38" fill="#fff"/><rect x="804" y="390" width="3" height="10" fill="#5a1616"/><rect x="805" y="391" width="1" height="8" fill="#000"/><rect x="806" y="399" width="3" height="52" fill="#5a1616"/><rect x="807" y="400" width="1" height="50" fill="#000"/><rect x="809" y="450" width="3" height="2" fill="#000"/><rect x="812" y="450" width="3" height="2" fill="#5a1616"/><rect x="814" y="450" width="3" height="2" fill="#5a1616"/><rect x="817" y="442" width="3" height="9" fill="#000"/><rect x="818" y="443" width="1" height="7" fill="#fff"/><rect x="820" y="436" width="3" height="7" fill="#000"/><rect x="821" y="437" width="1" height="5" fill="#fff"/><rect x="822" y="436" width="3" height="4" fill="#5a1616"/><rect x="823" y="437" width="1" height="2" fill="#000"/><rect x="825" y="439" width="3" height="6" fill="#5a1616"/><rect x="826" y="440" width="1" height="4" fill="#000"/><rect x="827" y="437" width="3" height="8" fill="#000"/><rect x="828" y="438" width="1" height="6" fill="#fff"/><rect x="830" y="437" width="3" height="11" fill="#5a1616"/><rect x="831" y="438" width="1" height="9" fill="#000"/><rect x="833" y="441" width="3" height="7" fill="#000"/><rect x="834" y="442" width="1" height="5" fill="#fff"/><rect x="835" y="417" width="3" height="25" fill="#000"/><rect x="836" y="418" width="1" height="23" fill="#fff"/><rect x="838" y="417" width="3" height="5" fill="#5a1616"/><rect x="839" y="418" width="1" height="3" fill="#000"/><rect x="841" y="421" width="3" height="2" fill="#5a1616"/><rect x="843" y="421" width="3" height="7" fill="#5a1616"/><rect x="844" y="422" width="1" height="5" fill="#000"/><rect x="846" y="420" width="3" height="8" fill="#000"/><rect x="847" y="421" width="1" height="6" fill="#fff"/><rect x="849" y="410" width="3" height="11" fill="#000"/><rect x="850" y="411" width="1" height="9" fill="#fff"/><rect x="851" y="404" width="3" height="7" fill="#000"/><rect x="852" y="405" width="1" height="5" fill="#fff"/><rect x="854" y="404" width="3" height="11" fill="#5a1616"/><rect x="855" y="405" width="1" height="9" fill="#000"/><rect x="857" y="414" width="3" height="2" fill="#5a1616"/><rect x="859" y="408" width="3" height="7" fill="#000"/><rect x="860" y="409" width="1" height="5" fill="#fff"/><rect x="862" y="408" width="3" height="11" fill="#5a1616"/><rect x="863" y="409" width="1" height="9" fill="#000"/><rect x="865" y="383" width="3" height="36" fill="#000"/><rect x="866" y="384" width="1" height="34" fill="#fff"/><rect x="867" y="347" width="3" height="37" fill="#000"/><rect x="868" y="348" width="1" height="35" fill="#fff"/><rect x="870" y="347" width="3" height="53" fill="#5a1616"/><rect x="871" y="348" width="1" height="51" fill="#000"/><rect x="873" y="399" width="3" height="23" fill="#5a1616"/><rect x="874" y="400" width="1" height="21" fill="#000"/><rect x="875" y="421" width="3" height="6" fill="#5a1616"/><rect x="876" y="422" width="1" height="4" fill="#000"/><rect x="878" y="426" width="3" height="15" fill="#5a1616"/><rect x="879" y="427" width="1" height="13" fill="#000"/><rect x="881" y="430" width="3" height="11" fill="#000"/><rect x="882" y="431" width="1" height="9" fill="#fff"/><rect x="883" y="421" width="3" height="10" fill="#000"/><rect x="884" y="422" width="1" height="8" fill="#fff"/><rect x="886" y="421" width="3" height="18" fill="#5a1616"/><rect x="887" y="422" width="1" height="16" fill="#000"/><rect x="889" y="432" width="3" height="7" fill="#000"/><rect x="890" y="433" width="1" height="5" fill="#fff"/><rect x="891" y="423" width="3" height="10" fill="#000"/><rect x="892" y="424" width="1" height="8" fill="#fff"/><rect x="894" y="418" width="3" height="6" fill="#000"/><rect x="895" y="419" width="1" height="4" fill="#fff"/><rect x="897" y="418" width="3" height="10" fill="#5a1616"/><rect x="898" y="419" width="1" height="8" fill="#000"/><rect x="899" y="427" width="3" height="24" fill="#5a1616"/><rect x="900" y="428" width="1" height="22" fill="#000"/><rect x="902" y="450" width="3" height="6" fill="#5a1616"/><rect x="903" y="451" width="1" height="4" fill="#000"/><rect x="905" y="454" width="3" height="2" fill="#000"/><rect x="907" y="454" width="3" height="5" fill="#5a1616"/><rect x="908" y="455" width="1" height="3" fill="#000"/><rect x="910" y="452" width="3" height="7" fill="#000"/><rect x="911" y="453" width="1" height="5" fill="#fff"/><rect x="913" y="441" width="3" height="12" fill="#000"/><rect x="914" y="442" width="1" height="10" fill="#fff"/><rect x="915" y="418" width="3" height="24" fill="#000"/><rect x="916" y="419" width="1" height="22" fill="#fff"/><rect x="918" y="418" width="3" height="2" fill="#5a1616"/><rect x="921" y="418" width="3" height="10" fill="#5a1616"/><rect x="922" y="419" width="1" height="8" fill="#000"/><rect x="923" y="424" width="3" height="4" fill="#000"/><rect x="924" y="425" width="1" height="2" fill="#fff"/><rect x="926" y="424" width="3" height="68" fill="#5a1616"/><rect x="927" y="425" width="1" height="66" fill="#000"/><rect x="929" y="461" width="3" height="31" fill="#000"/><rect x="930" y="462" width="1" height="29" fill="#fff"/><rect x="931" y="450" width="3" height="12" fill="#000"/><rect x="932" y="451" width="1" height="10" fill="#fff"/><rect x="934" y="450" width="3" height="2" fill="#000"/><rect x="936" y="427" width="3" height="24" fill="#000"/><rect x="937" y="428" width="1" height="22" fill="#fff"/><rect x="939" y="427" width="3" height="33" fill="#5a1616"/><rect x="940" y="428" width="1" height="31" fill="#000"/><rect x="942" y="455" width="3" height="5" fill="#000"/><rect x="943" y="456" width="1" height="3" fill="#fff"/><rect x="944" y="455" width="3" height="2" fill="#5a1616"/><rect x="947" y="454" width="3" height="3" fill="#000"/><rect x="948" y="455" width="1" height="1" fill="#fff"/><rect x="950" y="454" width="3" height="6" fill="#5a1616"/><rect x="951" y="455" width="1" height="4" fill="#000"/><rect x="952" y="452" width="3" height="8" fill="#000"/><rect x="953" y="453" width="1" height="6" fill="#fff"/><rect x="955" y="452" width="3" height="2" fill="#5a1616"/><rect x="958" y="446" width="3" height="8" fill="#000"/><rect x="959" y="447" width="1" height="6" fill="#fff"/><rect x="960" y="446" width="3" height="21" fill="#5a1616"/><rect x="961" y="447" width="1" height="19" fill="#000"/><rect x="963" y="466" width="3" height="5" fill="#5a1616"/><rect x="964" y="467" width="1" height="3" fill="#000"/><rect x="966" y="470" width="3" height="7" fill="#5a1616"/><rect x="967" y="471" width="1" height="5" fill="#000"/><rect x="968" y="476" width="3" height="5" fill="#5a1616"/><rect x="969" y="477" width="1" height="3" fill="#000"/><rect x="971" y="480" width="3" height="5" fill="#5a1616"/><rect x="972" y="481" width="1" height="3" fill="#000"/><rect x="974" y="460" width="3" height="25" fill="#000"/><rect x="975" y="461" width="1" height="23" fill="#fff"/><rect x="976" y="460" width="3" height="5" fill="#5a1616"/><rect x="977" y="461" width="1" height="3" fill="#000"/><rect x="979" y="464" width="3" height="22" fill="#5a1616"/><rect x="980" y="465" width="1" height="20" fill="#000"/><rect x="982" y="485" width="3" height="19" fill="#5a1616"/><rect x="983" y="486" width="1" height="17" fill="#000"/><rect x="984" y="489" width="3" height="15" fill="#000"/><rect x="985" y="490" width="1" height="13" fill="#fff"/><rect x="987" y="489" width="3" height="5" fill="#5a1616"/><rect x="988" y="490" width="1" height="3" fill="#000"/><rect x="990" y="493" width="3" height="36" fill="#5a1616"/><rect x="991" y="494" width="1" height="34" fill="#000"/><rect x="992" y="528" width="3" height="17" fill="#5a1616"/><rect x="993" y="529" width="1" height="15" fill="#000"/><rect x="995" y="525" width="3" height="20" fill="#000"/><rect x="996" y="526" width="1" height="18" fill="#fff"/><rect x="998" y="496" width="3" height="30" fill="#000"/><rect x="999" y="497" width="1" height="28" fill="#fff"/><rect x="1000" y="493" width="3" height="4" fill="#000"/><rect x="1001" y="494" width="1" height="2" fill="#fff"/><rect x="1003" y="493" width="3" height="22" fill="#5a1616"/><rect x="1004" y="494" width="1" height="20" fill="#000"/><rect x="1006" y="513" width="3" height="2" fill="#000"/><rect x="1008" y="504" width="3" height="10" fill="#000"/><rect x="1009" y="505" width="1" height="8" fill="#fff"/><rect x="1011" y="504" width="3" height="4" fill="#5a1616"/><rect x="1012" y="505" width="1" height="2" fill="#000"/><rect x="1014" y="507" width="3" height="12" fill="#5a1616"/><rect x="1015" y="508" width="1" height="10" fill="#000"/><rect x="1016" y="513" width="3" height="6" fill="#000"/><rect x="1017" y="514" width="1" height="4" fill="#fff"/><rect x="1019" y="508" width="3" height="6" fill="#000"/><rect x="1020" y="509" width="1" height="4" fill="#fff"/><rect x="1022" y="506" width="3" height="3" fill="#000"/><rect x="1023" y="507" width="1" height="1" fill="#fff"/><rect x="1024" y="506" width="3" height="2" fill="#5a1616"/><rect x="1027" y="493" width="3" height="14" fill="#000"/><rect x="1028" y="494" width="1" height="12" fill="#fff"/><rect x="1030" y="493" width="3" height="8" fill="#5a1616"/><rect x="1031" y="494" width="1" height="6" fill="#000"/><rect x="1032" y="500" width="3" height="2" fill="#5a1616"/><rect x="1035" y="501" width="3" height="8" fill="#5a1616"/><rect x="1036" y="502" width="1" height="6" fill="#000"/><rect x="1038" y="508" width="3" height="9" fill="#5a1616"/><rect x="1039" y="509" width="1" height="7" fill="#000"/><rect x="1040" y="495" width="3" height="22" fill="#000"/><rect x="1041" y="496" width="1" height="20" fill="#fff"/><rect x="1043" y="495" width="3" height="10" fill="#5a1616"/><rect x="1044" y="496" width="1" height="8" fill="#000"/><rect x="1045" y="504" width="3" height="32" fill="#5a1616"/><rect x="1046" y="505" width="1" height="30" fill="#000"/><rect x="1048" y="523" width="3" height="13" fill="#000"/><rect x="1049" y="524" width="1" height="11" fill="#fff"/><rect x="1051" y="523" width="3" height="6" fill="#5a1616"/><rect x="1052" y="524" width="1" height="4" fill="#000"/><rect x="1053" y="520" width="3" height="9" fill="#000"/><rect x="1054" y="521" width="1" height="7" fill="#fff"/><rect x="1056" y="520" width="3" height="25" fill="#5a1616"/><rect x="1057" y="521" width="1" height="23" fill="#000"/><rect x="1059" y="544" width="3" height="19" fill="#5a1616"/><rect x="1060" y="545" width="1" height="17" fill="#000"/><rect x="1061" y="562" width="3" height="32" fill="#5a1616"/><rect x="1062" y="563" width="1" height="30" fill="#000"/><rect x="1064" y="593" width="3" height="24" fill="#5a1616"/><rect x="1065" y="594" width="1" height="22" fill="#000"/><rect x="1067" y="616" width="3" height="2" fill="#5a1616"/><rect x="1069" y="608" width="3" height="9" fill="#000"/><rect x="1070" y="609" width="1" height="7" fill="#fff"/><rect x="1072" y="608" width="3" height="11" fill="#5a1616"/><rect x="1073" y="609" width="1" height="9" fill="#000"/><rect x="1075" y="595" width="3" height="24" fill="#000"/><rect x="1076" y="596" width="1" height="22" fill="#fff"/><rect x="1077" y="595" width="3" height="6" fill="#5a1616"/><rect x="1078" y="596" width="1" height="4" fill="#000"/><rect x="1080" y="600" width="3" height="2" fill="#5a1616"/><rect x="1083" y="598" width="3" height="3" fill="#000"/><rect x="1084" y="599" width="1" height="1" fill="#fff"/><rect x="1085" y="598" width="3" height="3" fill="#5a1616"/><rect x="1086" y="599" width="1" height="1" fill="#000"/><rect x="1088" y="600" width="3" height="17" fill="#5a1616"/><rect x="1089" y="601" width="1" height="15" fill="#000"/><rect x="1091" y="610" width="3" height="7" fill="#000"/><rect x="1092" y="611" width="1" height="5" fill="#fff"/><rect x="1093" y="610" width="3" height="3" fill="#5a1616"/><rect x="1094" y="611" width="1" height="1" fill="#000"/><rect x="1096" y="612" width="3" height="2" fill="#5a1616"/><rect x="1099" y="612" width="3" height="4" fill="#5a1616"/><rect x="1100" y="613" width="1" height="2" fill="#000"/><rect x="1101" y="615" width="3" height="13" fill="#5a1616"/><rect x="1102" y="616" width="1" height="11" fill="#000"/><rect x="1104" y="604" width="3" height="24" fill="#000"/><rect x="1105" y="605" width="1" height="22" fill="#fff"/><rect x="1107" y="604" width="3" height="14" fill="#5a1616"/><rect x="1108" y="605" width="1" height="12" fill="#000"/><rect x="1109" y="617" width="3" height="8" fill="#5a1616"/><rect x="1110" y="618" width="1" height="6" fill="#000"/><rect x="1112" y="604" width="3" height="21" fill="#000"/><rect x="1113" y="605" width="1" height="19" fill="#fff"/><rect x="1115" y="578" width="3" height="27" fill="#000"/><rect x="1116" y="579" width="1" height="25" fill="#fff"/><rect x="1117" y="554" width="3" height="25" fill="#000"/><rect x="1118" y="555" width="1" height="23" fill="#fff"/><rect x="1120" y="553" width="3" height="2" fill="#000"/><rect x="1123" y="553" width="3" height="2" fill="#5a1616"/><rect x="1125" y="554" width="3" height="21" fill="#5a1616"/><rect x="1126" y="555" width="1" height="19" fill="#000"/><rect x="1128" y="574" width="3" height="28" fill="#5a1616"/><rect x="1129" y="575" width="1" height="26" fill="#000"/><rect x="1131" y="601" width="3" height="16" fill="#5a1616"/><rect x="1132" y="602" width="1" height="14" fill="#000"/><rect x="1133" y="616" width="3" height="5" fill="#5a1616"/><rect x="1134" y="617" width="1" height="3" fill="#000"/><rect x="1136" y="620" width="3" height="12" fill="#5a1616"/><rect x="1137" y="621" width="1" height="10" fill="#000"/><rect x="1139" y="621" width="3" height="11" fill="#000"/><rect x="1140" y="622" width="1" height="9" fill="#fff"/><rect x="1141" y="618" width="3" height="4" fill="#000"/><rect x="1142" y="619" width="1" height="2" fill="#fff"/><rect x="1144" y="616" width="3" height="3" fill="#000"/><rect x="1145" y="617" width="1" height="1" fill="#fff"/><rect x="1147" y="616" width="3" height="6" fill="#5a1616"/><rect x="1148" y="617" width="1" height="4" fill="#000"/><rect x="1149" y="621" width="3" height="2" fill="#5a1616"/><rect x="1152" y="622" width="3" height="7" fill="#5a1616"/><rect x="1153" y="623" width="1" height="5" fill="#000"/><rect x="1154" y="627" width="3" height="2" fill="#000"/><rect x="1157" y="627" width="3" height="4" fill="#5a1616"/><rect x="1158" y="628" width="1" height="2" fill="#000"/><rect x="1160" y="629" width="3" height="2" fill="#000"/><rect x="1162" y="624" width="3" height="6" fill="#000"/><rect x="1163" y="625" width="1" height="4" fill="#fff"/><rect x="1165" y="624" width="3" height="9" fill="#5a1616"/><rect x="1166" y="625" width="1" height="7" fill="#000"/><rect x="1168" y="632" width="3" height="7" fill="#5a1616"/><rect x="1169" y="633" width="1" height="5" fill="#000"/><rect x="1170" y="638" width="3" height="30" fill="#5a1616"/><rect x="1171" y="639" width="1" height="28" fill="#000"/><rect x="1173" y="661" width="3" height="7" fill="#000"/><rect x="1174" y="662" width="1" height="5" fill="#fff"/><rect x="1176" y="661" width="3" height="11" fill="#5a1616"/><rect x="1177" y="662" width="1" height="9" fill="#000"/><rect x="1178" y="663" width="3" height="9" fill="#000"/><rect x="1179" y="664" width="1" height="7" fill="#fff"/><rect x="1181" y="663" width="3" height="11" fill="#5a1616"/><rect x="1182" y="664" width="1" height="9" fill="#000"/><rect x="1184" y="619" width="3" height="55" fill="#000"/><rect x="1185" y="620" width="1" height="53" fill="#fff"/><rect x="1186" y="619" width="3" height="6" fill="#5a1616"/><rect x="1187" y="620" width="1" height="4" fill="#000"/><rect x="1189" y="624" width="3" height="5" fill="#5a1616"/><rect x="1190" y="625" width="1" height="3" fill="#000"/><rect x="1192" y="620" width="3" height="9" fill="#000"/><rect x="1193" y="621" width="1" height="7" fill="#fff"/><rect x="1194" y="620" width="3" height="7" fill="#5a1616"/><rect x="1195" y="621" width="1" height="5" fill="#000"/><rect x="1197" y="575" width="3" height="52" fill="#000"/><rect x="1198" y="576" width="1" height="50" fill="#fff"/><rect x="1200" y="574" width="3" height="2" fill="#000"/><rect x="1202" y="574" width="3" height="8" fill="#5a1616"/><rect x="1203" y="575" width="1" height="6" fill="#000"/><rect x="1205" y="581" width="3" height="2" fill="#5a1616"/><rect x="1208" y="579" width="3" height="4" fill="#000"/><rect x="1209" y="580" width="1" height="2" fill="#fff"/><rect x="1210" y="579" width="3" height="17" fill="#5a1616"/><rect x="1211" y="580" width="1" height="15" fill="#000"/><rect x="1213" y="595" width="3" height="7" fill="#5a1616"/><rect x="1214" y="596" width="1" height="5" fill="#000"/><rect x="1216" y="597" width="3" height="5" fill="#000"/><rect x="1217" y="598" width="1" height="3" fill="#fff"/><rect x="1218" y="591" width="3" height="7" fill="#000"/><rect x="1219" y="592" width="1" height="5" fill="#fff"/><rect x="1221" y="591" width="3" height="15" fill="#5a1616"/><rect x="1222" y="592" width="1" height="13" fill="#000"/><rect x="1224" y="605" width="3" height="2" fill="#5a1616"/><rect x="1226" y="598" width="3" height="9" fill="#000"/><rect x="1227" y="599" width="1" height="7" fill="#fff"/><rect x="1229" y="598" width="3" height="9" fill="#5a1616"/><rect x="1230" y="599" width="1" height="7" fill="#000"/><rect x="1232" y="584" width="3" height="23" fill="#000"/><rect x="1233" y="585" width="1" height="21" fill="#fff"/><rect x="1234" y="567" width="3" height="18" fill="#000"/><rect x="1235" y="568" width="1" height="16" fill="#fff"/><rect x="1237" y="567" width="3" height="3" fill="#5a1616"/><rect x="1238" y="568" width="1" height="1" fill="#000"/></g><line x1="7" y1="70" x2="1761" y2="70" stroke="#f23a2e" stroke-width="2" stroke-dasharray="10 12" stroke-dashoffset="0"/><line x1="719" y1="356" x2="1761" y2="356" stroke="#f23a2e" stroke-width="2" stroke-dasharray="10 12" stroke-dashoffset="0"/><line x1="719" y1="481" x2="1761" y2="481" stroke="#f23a2e" stroke-width="2" stroke-dasharray="10 12" stroke-dashoffset="0"/><line x1="7" y1="644" x2="1761" y2="644" stroke="#f23a2e" stroke-width="2" stroke-dasharray="10 12" stroke-dashoffset="0"/><line x1="1113" y1="540" x2="1761" y2="540" stroke="#2962ff" stroke-width="2" stroke-dasharray="10 12" stroke-dashoffset="0"/><line x1="996" y1="554" x2="1761" y2="554" stroke="#2962ff" stroke-width="2" stroke-dasharray="10 12" stroke-dashoffset="0"/><line x1="1124" y1="552.9" x2="1761" y2="552.9" stroke="#2962ff" stroke-width="2" stroke-dasharray="10 12" stroke-dashoffset="0"/><line x1="549" y1="619" x2="1761" y2="619" stroke="#2962ff" stroke-width="2" stroke-dasharray="10 12" stroke-dashoffset="0"/><line x1="6" y1="70.5" x2="878.6" y2="199" stroke="#f23a2e" stroke-width="2"/><line x1="868.3" y1="344.7" x2="1272" y2="681.7" stroke="#f23a2e" stroke-width="2"/><line x1="6" y1="75.45" x2="128.3" y2="42" stroke="#f23a2e" stroke-width="1.1" stroke-dasharray="1.2 1.7"/><text x="1298" y="185.8" font-size="11.3" fill="#f23a2e" stroke="#f23a2e" stroke-width="0.25">0.382(1.20514)</text><text x="1298" y="327.8" font-size="11.3" fill="#f23a2e" stroke="#f23a2e" stroke-width="0.25">0.5(1.19850)</text><text x="1298" y="469.8" font-size="11.3" fill="#f23a2e" stroke="#f23a2e" stroke-width="0.25">0.618(1.19186)</text><text x="1298" y="671.8" font-size="11.3" fill="#f23a2e" stroke="#f23a2e" stroke-width="0.25">0.786(1.18240)</text><rect x="1241" y="266" width="383" height="267.5" fill="rgba(0,150,136,0.2)"/><rect x="1241" y="533.5" width="383" height="178" fill="rgba(244,67,54,0.2)"/><rect x="1241" y="533" width="383" height="1" fill="#888"/><rect x="1241" y="266" width="383" height="1" fill="rgba(0,150,136,0.25)"/><line x1="7" y1="569.5" x2="1712" y2="569.5" stroke="#000" stroke-width="1" stroke-dasharray="1 2" shape-rendering="crispEdges"/><circle cx="943.2" cy="145.4" r="1.4" fill="#000"/><text x="15.9" y="64.8" font-size="12" font-weight="bold" fill="#555" textLength="163" lengthAdjust="spacingAndGlyphs">Euro / U.S. Dollar, 1h, FXCM</text><text x="15.9" y="81.7" font-size="12" fill="#555">Pivots (Classic, Weekly, 15)</text><rect x="1712" y="561" width="52" height="17" rx="2.5" fill="#000"/><text x="1716" y="573.8" font-size="11" fill="#fff" stroke="#fff" stroke-width="0.3" textLength="37.5" lengthAdjust="spacingAndGlyphs">EURUSD</text></g><g fill="#4c4c4c" shape-rendering="crispEdges"><rect x="6" y="43" width="1816" height="1"/><rect x="6" y="850" width="1816" height="1"/><rect x="6" y="43" width="1" height="808"/><rect x="1821" y="43" width="1" height="808"/><rect x="1761" y="43" width="1" height="808"/><rect x="6" y="822" width="1816" height="1"/></g><g clip-path="url(#paxis)"><rect x="1762" y="78" width="4" height="1" fill="#4c4c4c"/><text x="1771.5" y="82.47999999999996" font-size="11" fill="#4c4c4c" stroke="#4c4c4c" stroke-width="0.3" textLength="38.6" lengthAdjust="spacingAndGlyphs">1.21000</text><rect x="1762" y="121" width="4" height="1" fill="#4c4c4c"/><text x="1771.5" y="125.2" font-size="11" fill="#4c4c4c" stroke="#4c4c4c" stroke-width="0.3" textLength="38.6" lengthAdjust="spacingAndGlyphs">1.20800</text><rect x="1762" y="164" width="4" height="1" fill="#4c4c4c"/><text x="1771.5" y="167.92000000000004" font-size="11" fill="#4c4c4c" stroke="#4c4c4c" stroke-width="0.3" textLength="38.6" lengthAdjust="spacingAndGlyphs">1.20600</text><rect x="1762" y="207" width="4" height="1" fill="#4c4c4c"/><text x="1771.5" y="210.6400000000001" font-size="11" fill="#4c4c4c" stroke="#4c4c4c" stroke-width="0.3" textLength="38.6" lengthAdjust="spacingAndGlyphs">1.20400</text><rect x="1762" y="249" width="4" height="1" fill="#4c4c4c"/><text x="1771.5" y="253.36000000000013" font-size="11" fill="#4c4c4c" stroke="#4c4c4c" stroke-width="0.3" textLength="38.6" lengthAdjust="spacingAndGlyphs">1.20200</text><rect x="1762" y="292" width="4" height="1" fill="#4c4c4c"/><text x="1771.5" y="296.08000000000015" font-size="11" fill="#4c4c4c" stroke="#4c4c4c" stroke-width="0.3" textLength="38.6" lengthAdjust="spacingAndGlyphs">1.20000</text><rect x="1762" y="335" width="4" height="1" fill="#4c4c4c"/><text x="1771.5" y="338.8000000000002" font-size="11" fill="#4c4c4c" stroke="#4c4c4c" stroke-width="0.3" textLength="38.6" lengthAdjust="spacingAndGlyphs">1.19800</text><rect x="1762" y="378" width="4" height="1" fill="#4c4c4c"/><text x="1771.5" y="381.5200000000002" font-size="11" fill="#4c4c4c" stroke="#4c4c4c" stroke-width="0.3" textLength="38.6" lengthAdjust="spacingAndGlyphs">1.19600</text><rect x="1762" y="420" width="4" height="1" fill="#4c4c4c"/><text x="1771.5" y="424.24000000000024" font-size="11" fill="#4c4c4c" stroke="#4c4c4c" stroke-width="0.3" textLength="38.6" lengthAdjust="spacingAndGlyphs">1.19400</text><rect x="1762" y="463" width="4" height="1" fill="#4c4c4c"/><text x="1771.5" y="466.9600000000003" font-size="11" fill="#4c4c4c" stroke="#4c4c4c" stroke-width="0.3" textLength="38.6" lengthAdjust="spacingAndGlyphs">1.19200</text><rect x="1762" y="506" width="4" height="1" fill="#4c4c4c"/><text x="1771.5" y="509.68000000000035" font-size="11" fill="#4c4c4c" stroke="#4c4c4c" stroke-width="0.3" textLength="38.6" lengthAdjust="spacingAndGlyphs">1.19000</text><rect x="1762" y="548" width="4" height="1" fill="#4c4c4c"/><text x="1771.5" y="552.4000000000004" font-size="11" fill="#4c4c4c" stroke="#4c4c4c" stroke-width="0.3" textLength="38.6" lengthAdjust="spacingAndGlyphs">1.18800</text><rect x="1762" y="591" width="4" height="1" fill="#4c4c4c"/><text x="1771.5" y="595.1200000000005" font-size="11" fill="#4c4c4c" stroke="#4c4c4c" stroke-width="0.3" textLength="38.6" lengthAdjust="spacingAndGlyphs">1.18600</text><rect x="1762" y="634" width="4" height="1" fill="#4c4c4c"/><text x="1771.5" y="637.8400000000005" font-size="11" fill="#4c4c4c" stroke="#4c4c4c" stroke-width="0.3" textLength="38.6" lengthAdjust="spacingAndGlyphs">1.18400</text><rect x="1762" y="677" width="4" height="1" fill="#4c4c4c"/><text x="1771.5" y="680.5600000000005" font-size="11" fill="#4c4c4c" stroke="#4c4c4c" stroke-width="0.3" textLength="38.6" lengthAdjust="spacingAndGlyphs">1.18200</text><rect x="1762" y="719" width="4" height="1" fill="#4c4c4c"/><text x="1771.5" y="723.2800000000005" font-size="11" fill="#4c4c4c" stroke="#4c4c4c" stroke-width="0.3" textLength="38.6" lengthAdjust="spacingAndGlyphs">1.18000</text><rect x="1762" y="762" width="4" height="1" fill="#4c4c4c"/><text x="1771.5" y="766.0000000000006" font-size="11" fill="#4c4c4c" stroke="#4c4c4c" stroke-width="0.3" textLength="38.6" lengthAdjust="spacingAndGlyphs">1.17800</text><rect x="1762" y="805" width="4" height="1" fill="#4c4c4c"/><text x="1771.5" y="808.7200000000007" font-size="11" fill="#4c4c4c" stroke="#4c4c4c" stroke-width="0.3" textLength="38.6" lengthAdjust="spacingAndGlyphs">1.17600</text><path d="M1761,62 H1813 a3,3 0 0 1 3,3 V76 a3,3 0 0 1 -3,3 H1761 Z" fill="#f23a2e"/><rect x="1762" y="70" width="4" height="1" fill="#fff"/><text x="1771.5" y="73.9" font-size="11" fill="#fff" stroke="#fff" stroke-width="0.3" textLength="38.6" lengthAdjust="spacingAndGlyphs">1.21039</text><path d="M1761,258 H1813 a3,3 0 0 1 3,3 V272 a3,3 0 0 1 -3,3 H1761 Z" fill="#089688"/><rect x="1762" y="266" width="4" height="1" fill="#fff"/><text x="1771.5" y="269.9" font-size="11" fill="#fff" stroke="#fff" stroke-width="0.3" textLength="38.6" lengthAdjust="spacingAndGlyphs">1.20122</text><path d="M1761,348 H1813 a3,3 0 0 1 3,3 V362 a3,3 0 0 1 -3,3 H1761 Z" fill="#f23a2e"/><rect x="1762" y="356" width="4" height="1" fill="#fff"/><text x="1771.5" y="359.9" font-size="11" fill="#fff" stroke="#fff" stroke-width="0.3" textLength="38.6" lengthAdjust="spacingAndGlyphs">1.19699</text><path d="M1761,473 H1813 a3,3 0 0 1 3,3 V487 a3,3 0 0 1 -3,3 H1761 Z" fill="#f23a2e"/><rect x="1762" y="481" width="4" height="1" fill="#fff"/><text x="1771.5" y="484.9" font-size="11" fill="#fff" stroke="#fff" stroke-width="0.3" textLength="38.6" lengthAdjust="spacingAndGlyphs">1.19116</text><path d="M1761,498.5 H1813 a3,3 0 0 1 3,3 V512.5 a3,3 0 0 1 -3,3 H1761 Z" fill="#787b86"/><rect x="1762" y="506" width="4" height="1" fill="#fff"/><text x="1771.5" y="510.4" font-size="11" fill="#fff" stroke="#fff" stroke-width="0.3" textLength="38.6" lengthAdjust="spacingAndGlyphs">1.18874</text><path d="M1761,515 H1813 a3,3 0 0 1 3,3 V529 a3,3 0 0 1 -3,3 H1761 Z" fill="#2962ff"/><rect x="1762" y="523" width="4" height="1" fill="#fff"/><text x="1771.5" y="526.9" font-size="11" fill="#fff" stroke="#fff" stroke-width="0.3" textLength="38.6" lengthAdjust="spacingAndGlyphs">1.18842</text><path d="M1761,530.5 H1813 a3,3 0 0 1 3,3 V544.5 a3,3 0 0 1 -3,3 H1761 Z" fill="#2962ff"/><rect x="1762" y="538" width="4" height="1" fill="#fff"/><text x="1771.5" y="542.4" font-size="11" fill="#fff" stroke="#fff" stroke-width="0.3" textLength="38.6" lengthAdjust="spacingAndGlyphs">1.18782</text><path d="M1761,546 H1813 a3,3 0 0 1 3,3 V560 a3,3 0 0 1 -3,3 H1761 Z" fill="#2962ff"/><rect x="1762" y="554" width="4" height="1" fill="#fff"/><text x="1771.5" y="557.9" font-size="11" fill="#fff" stroke="#fff" stroke-width="0.3" textLength="38.6" lengthAdjust="spacingAndGlyphs">1.18777</text><path d="M1761,562 H1813 a3,3 0 0 1 3,3 V587.5 a3,3 0 0 1 -3,3 H1761 Z" fill="#000"/><rect x="1762" y="569" width="4" height="1" fill="#fff"/><text x="1771.5" y="573" font-size="11" fill="#fff" stroke="#fff" stroke-width="0.3" textLength="38.6" lengthAdjust="spacingAndGlyphs">1.18706</text><text x="1771.5" y="586" font-size="11" fill="#d1d4dc" stroke="#d1d4dc" stroke-width="0.2">35:18</text><path d="M1761,611 H1813 a3,3 0 0 1 3,3 V625 a3,3 0 0 1 -3,3 H1761 Z" fill="#2962ff"/><rect x="1762" y="619" width="4" height="1" fill="#fff"/><text x="1771.5" y="622.9" font-size="11" fill="#fff" stroke="#fff" stroke-width="0.3" textLength="38.6" lengthAdjust="spacingAndGlyphs">1.18471</text><path d="M1761,635.7 H1813 a3,3 0 0 1 3,3 V649.7 a3,3 0 0 1 -3,3 H1761 Z" fill="#f23a2e"/><rect x="1762" y="643" width="4" height="1" fill="#fff"/><text x="1771.5" y="647.6" font-size="11" fill="#fff" stroke="#fff" stroke-width="0.3" textLength="38.6" lengthAdjust="spacingAndGlyphs">1.18355</text><path d="M1761,703 H1813 a3,3 0 0 1 3,3 V717 a3,3 0 0 1 -3,3 H1761 Z" fill="#f23a2e"/><rect x="1762" y="711" width="4" height="1" fill="#fff"/><text x="1771.5" y="714.9" font-size="11" fill="#fff" stroke="#fff" stroke-width="0.3" textLength="38.6" lengthAdjust="spacingAndGlyphs">1.18040</text><rect x="1777.5" y="50.5" width="27" height="17" rx="3" fill="#fff" stroke="#dde3ea"/><text x="1781.5" y="62.5" font-size="10.5" fill="#4c4c4c" textLength="19" lengthAdjust="spacingAndGlyphs">USD</text></g><g clip-path="url(#taxis)"><rect x="65" y="823" width="1" height="4" fill="#4c4c4c"/><text x="65.1" y="840" font-size="11" text-anchor="middle" fill="#4c4c4c" stroke="#4c4c4c" stroke-width="0.3">9</text><rect x="162" y="823" width="1" height="4" fill="#4c4c4c"/><text x="161.8" y="840" font-size="11" text-anchor="middle" fill="#4c4c4c" stroke="#4c4c4c" stroke-width="0.3">12:00</text><rect x="258" y="823" width="1" height="4" fill="#4c4c4c"/><text x="257.8" y="840" font-size="11" text-anchor="middle" fill="#4c4c4c" stroke="#4c4c4c" stroke-width="0.3">14</text><rect x="384" y="823" width="1" height="4" fill="#4c4c4c"/><text x="384.3" y="840" font-size="11" text-anchor="middle" fill="#4c4c4c" stroke="#4c4c4c" stroke-width="0.3">16</text><rect x="481" y="823" width="1" height="4" fill="#4c4c4c"/><text x="480.6" y="840" font-size="11" text-anchor="middle" fill="#4c4c4c" stroke="#4c4c4c" stroke-width="0.3">12:00</text><rect x="577" y="823" width="1" height="4" fill="#4c4c4c"/><text x="576.6" y="840" font-size="11" text-anchor="middle" fill="#4c4c4c" stroke="#4c4c4c" stroke-width="0.3">21</text><rect x="704" y="823" width="1" height="4" fill="#4c4c4c"/><text x="703.5" y="840" font-size="11" text-anchor="middle" fill="#4c4c4c" stroke="#4c4c4c" stroke-width="0.3">23</text><rect x="800" y="823" width="1" height="4" fill="#4c4c4c"/><text x="799.5" y="840" font-size="11" text-anchor="middle" fill="#4c4c4c" stroke="#4c4c4c" stroke-width="0.3">12:00</text><rect x="896" y="823" width="1" height="4" fill="#4c4c4c"/><text x="895.5" y="840" font-size="11" text-anchor="middle" fill="#4c4c4c" stroke="#4c4c4c" stroke-width="0.3">28</text><rect x="992" y="823" width="1" height="4" fill="#4c4c4c"/><text x="991.8" y="840" font-size="11" text-anchor="middle" fill="#4c4c4c" stroke="#4c4c4c" stroke-width="0.3">12:00</text><rect x="1087" y="823" width="1" height="4" fill="#4c4c4c"/><text x="1086.8" y="840" font-size="11" text-anchor="middle" fill="#4c4c4c" stroke="#4c4c4c" stroke-width="0" font-weight="bold">Jul</text><rect x="1214" y="823" width="1" height="4" fill="#4c4c4c"/><text x="1214.5" y="840" font-size="11" text-anchor="middle" fill="#4c4c4c" stroke="#4c4c4c" stroke-width="0.3">5</text><rect x="1343" y="823" width="1" height="4" fill="#4c4c4c"/><text x="1342.6" y="840" font-size="11" text-anchor="middle" fill="#4c4c4c" stroke="#4c4c4c" stroke-width="0.3">7</text><rect x="1437" y="823" width="1" height="4" fill="#4c4c4c"/><text x="1437.4" y="840" font-size="11" text-anchor="middle" fill="#4c4c4c" stroke="#4c4c4c" stroke-width="0.3">12:00</text><rect x="1533" y="823" width="1" height="4" fill="#4c4c4c"/><text x="1533.2" y="840" font-size="11" text-anchor="middle" fill="#4c4c4c" stroke="#4c4c4c" stroke-width="0.3">12</text><rect x="1661" y="823" width="1" height="4" fill="#4c4c4c"/><text x="1661.4" y="840" font-size="11" text-anchor="middle" fill="#4c4c4c" stroke="#4c4c4c" stroke-width="0.3">14</text><rect x="1758" y="823" width="1" height="4" fill="#4c4c4c"/><text x="1757.5" y="840" font-size="11" text-anchor="middle" fill="#4c4c4c" stroke="#4c4c4c" stroke-width="0.3">12:00</text></g><g fill="#2962ff"><circle cx="10" cy="871.5" r="4.5"/><circle cx="17.5" cy="867.5" r="6.5"/><circle cx="27.7" cy="871" r="4.9"/><rect x="10" y="870" width="17.7" height="5.9"/></g><polyline points="7.3,874.2 15.8,866.3 21.7,873 28.8,865.3" fill="none" stroke="#fff" stroke-width="1.2" stroke-linejoin="round"/><circle cx="15.8" cy="866.6" r="1.3" fill="#fff"/><circle cx="21.7" cy="872.8" r="1.5" fill="#fff"/><text x="34" y="873" font-size="12.8" fill="#131722" textLength="70.3" lengthAdjust="spacingAndGlyphs">TradingView</text></svg></body></html>
